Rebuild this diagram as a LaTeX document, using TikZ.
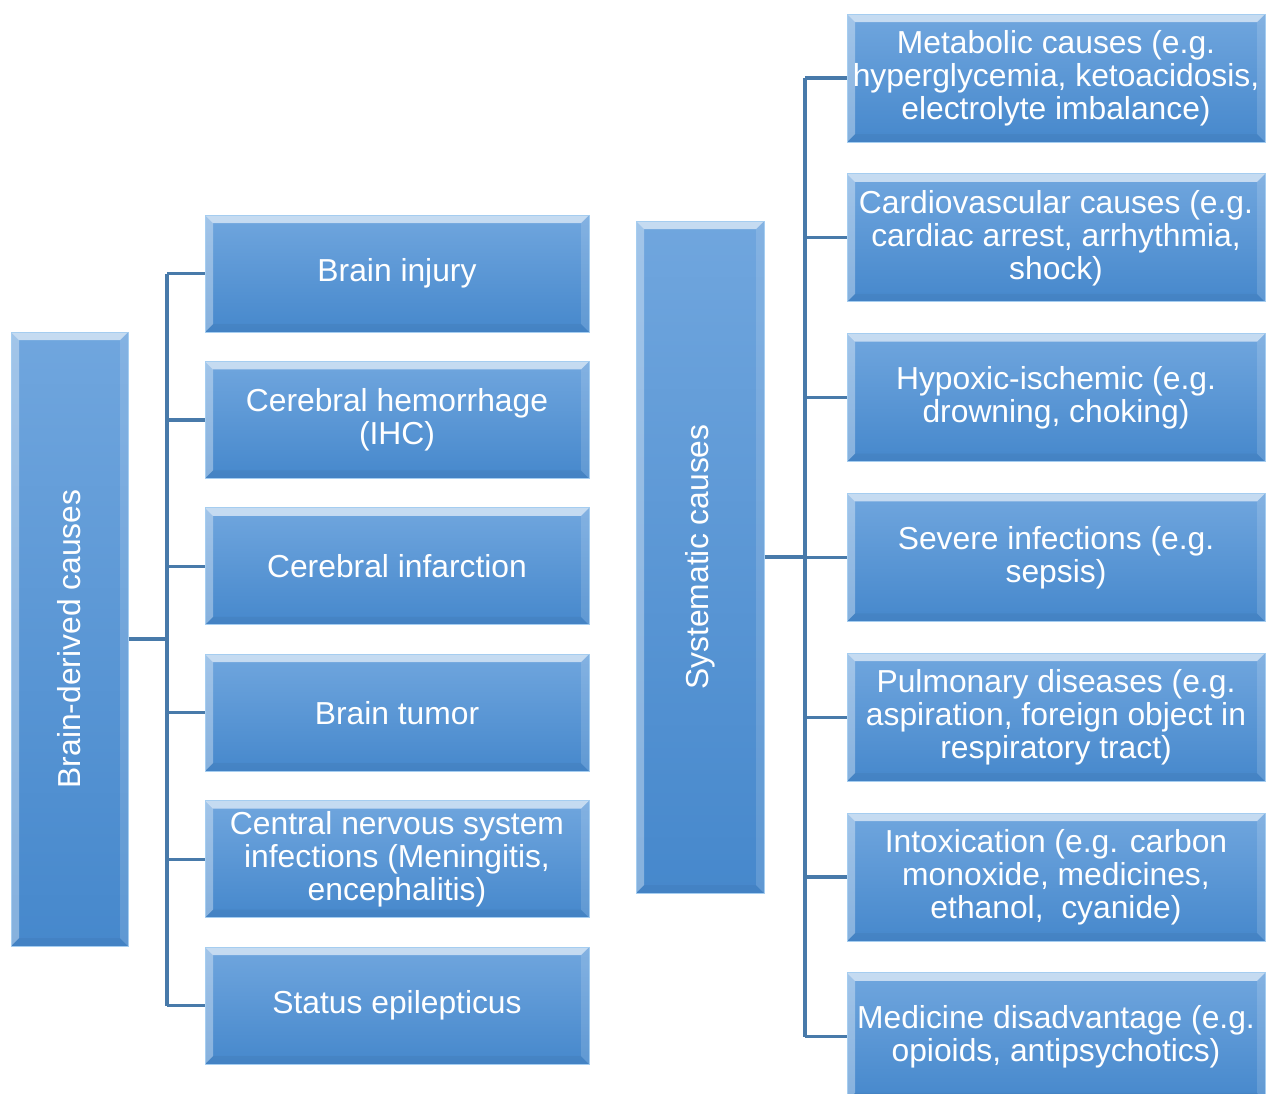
\documentclass[tikz,border=0pt]{standalone}
\usepackage{fontspec}
\setmainfont{Liberation Sans}
\usepackage{graphicx}
\usetikzlibrary{calc}
\definecolor{boxtop}{RGB}{112,166,222}
\definecolor{boxbot}{RGB}{70,136,204}
\definecolor{boxedge}{RGB}{165,205,240}
\definecolor{linkc}{RGB}{72,122,170}
\tikzset{
  bevelbox/.style={
    draw=boxedge, line width=1pt, inner sep=0pt, align=center, text=white,
    top color=boxtop, bottom color=boxbot,
    font=\fontsize{31.8}{33}\selectfont,
    path picture={
      \path (path picture bounding box.north west) coordinate (bvnw)
            (path picture bounding box.north east) coordinate (bvne)
            (path picture bounding box.south west) coordinate (bvsw)
            (path picture bounding box.south east) coordinate (bvse);
      \fill[white,opacity=.6] (bvnw) -- (bvne) -- ([shift={(-8pt,-8pt)}]bvne) -- ([shift={(8pt,-8pt)}]bvnw) -- cycle;
      \fill[white,opacity=.35] (bvnw) -- ([shift={(8pt,-8pt)}]bvnw) -- ([shift={(8pt,8pt)}]bvsw) -- (bvsw) -- cycle;
      \fill[white,opacity=.14] (bvne) -- ([shift={(-8pt,-8pt)}]bvne) -- ([shift={(-8pt,8pt)}]bvse) -- (bvse) -- cycle;
      \fill[black,opacity=.04] (bvsw) -- ([shift={(8pt,8pt)}]bvsw) -- ([shift={(-8pt,8pt)}]bvse) -- (bvse) -- cycle;
    }},
  leftbox/.style={bevelbox, minimum width=384pt, minimum height=117pt},
  rightbox/.style={bevelbox, minimum width=418pt, minimum height=128pt},
  link/.style={draw=linkc, line width=3.2pt}
}
\begin{document}
\begin{tikzpicture}[x=1pt,y=-1pt]
\useasboundingbox (0,0) rectangle (1266,1093);
\clip (0,0) rectangle (1266,1093);
% roots
\node[bevelbox, minimum width=117pt, minimum height=614pt] (brain) at (69.5,639) {\rotatebox{90}{Brain-derived causes}};
\node[bevelbox, minimum width=128pt, minimum height=672pt] (sys) at (700,557) {\rotatebox{90}{Systematic causes}};
% left children
\node[leftbox] (l1) at (397,273.5) {\raisebox{-2pt}{Brain injury}};
\node[leftbox] (l2) at (397,419.9) {Cerebral hemorrhage\\(IHC)\rule[-2pt]{0pt}{1pt}};
\node[leftbox] (l3) at (397,566.3) {Cerebral infarction};
\node[leftbox] (l4) at (397,712.7) {Brain tumor};
\node[leftbox] (l5) at (397,859.1) {Central nervous system\\infections (Meningitis,\\encephalitis)};
\node[leftbox] (l6) at (397,1005.5) {\raisebox{-2pt}{Status epilepticus}};
% right children
\node[rightbox] (r1) at (1056,78) {Metabolic causes (e.g.\\hyperglycemia, ketoacidosis,\\electrolyte imbalance)\rule[-4pt]{0pt}{1pt}};
\node[rightbox] (r2) at (1056,237.8) {Cardiovascular causes (e.g.\\cardiac arrest, arrhythmia,\\shock)\rule[-4pt]{0pt}{1pt}};
\node[rightbox] (r3) at (1056,397.6) {Hypoxic-ischemic (e.g.\\drowning, choking)\rule[-4pt]{0pt}{1pt}};
\node[rightbox] (r4) at (1056,557.4) {Severe infections (e.g.\\sepsis)\rule[-4pt]{0pt}{1pt}};
\node[rightbox] (r5) at (1056,717.2) {Pulmonary diseases (e.g.\\aspiration, foreign object in\\respiratory tract)\rule[-4pt]{0pt}{1pt}};
\node[rightbox] (r6) at (1056,877) {Intoxication (e.g. carbon\\monoxide, medicines,\\ethanol, \ cyanide)\rule[-4pt]{0pt}{1pt}};
\node[rightbox] (r7) at (1056,1036.8) {Medicine disadvantage (e.g.\\opioids, antipsychotics)\rule[-4pt]{0pt}{1pt}};
% left connectors
\coordinate (lj) at (167,639);
\draw[link] (brain.east) -- (lj);
\draw[link] (lj |- l1.west) -- (lj |- l6.west);
\foreach \i in {1,...,6} \draw[link] (lj |- l\i.west) -- (l\i.west);
% right connectors
\coordinate (rj) at (805,557);
\draw[link] (sys.east) -- (rj);
\draw[link] (rj |- r1.west) -- (rj |- r7.west);
\foreach \i in {1,...,7} \draw[link] (rj |- r\i.west) -- (r\i.west);
\end{tikzpicture}
\end{document}
